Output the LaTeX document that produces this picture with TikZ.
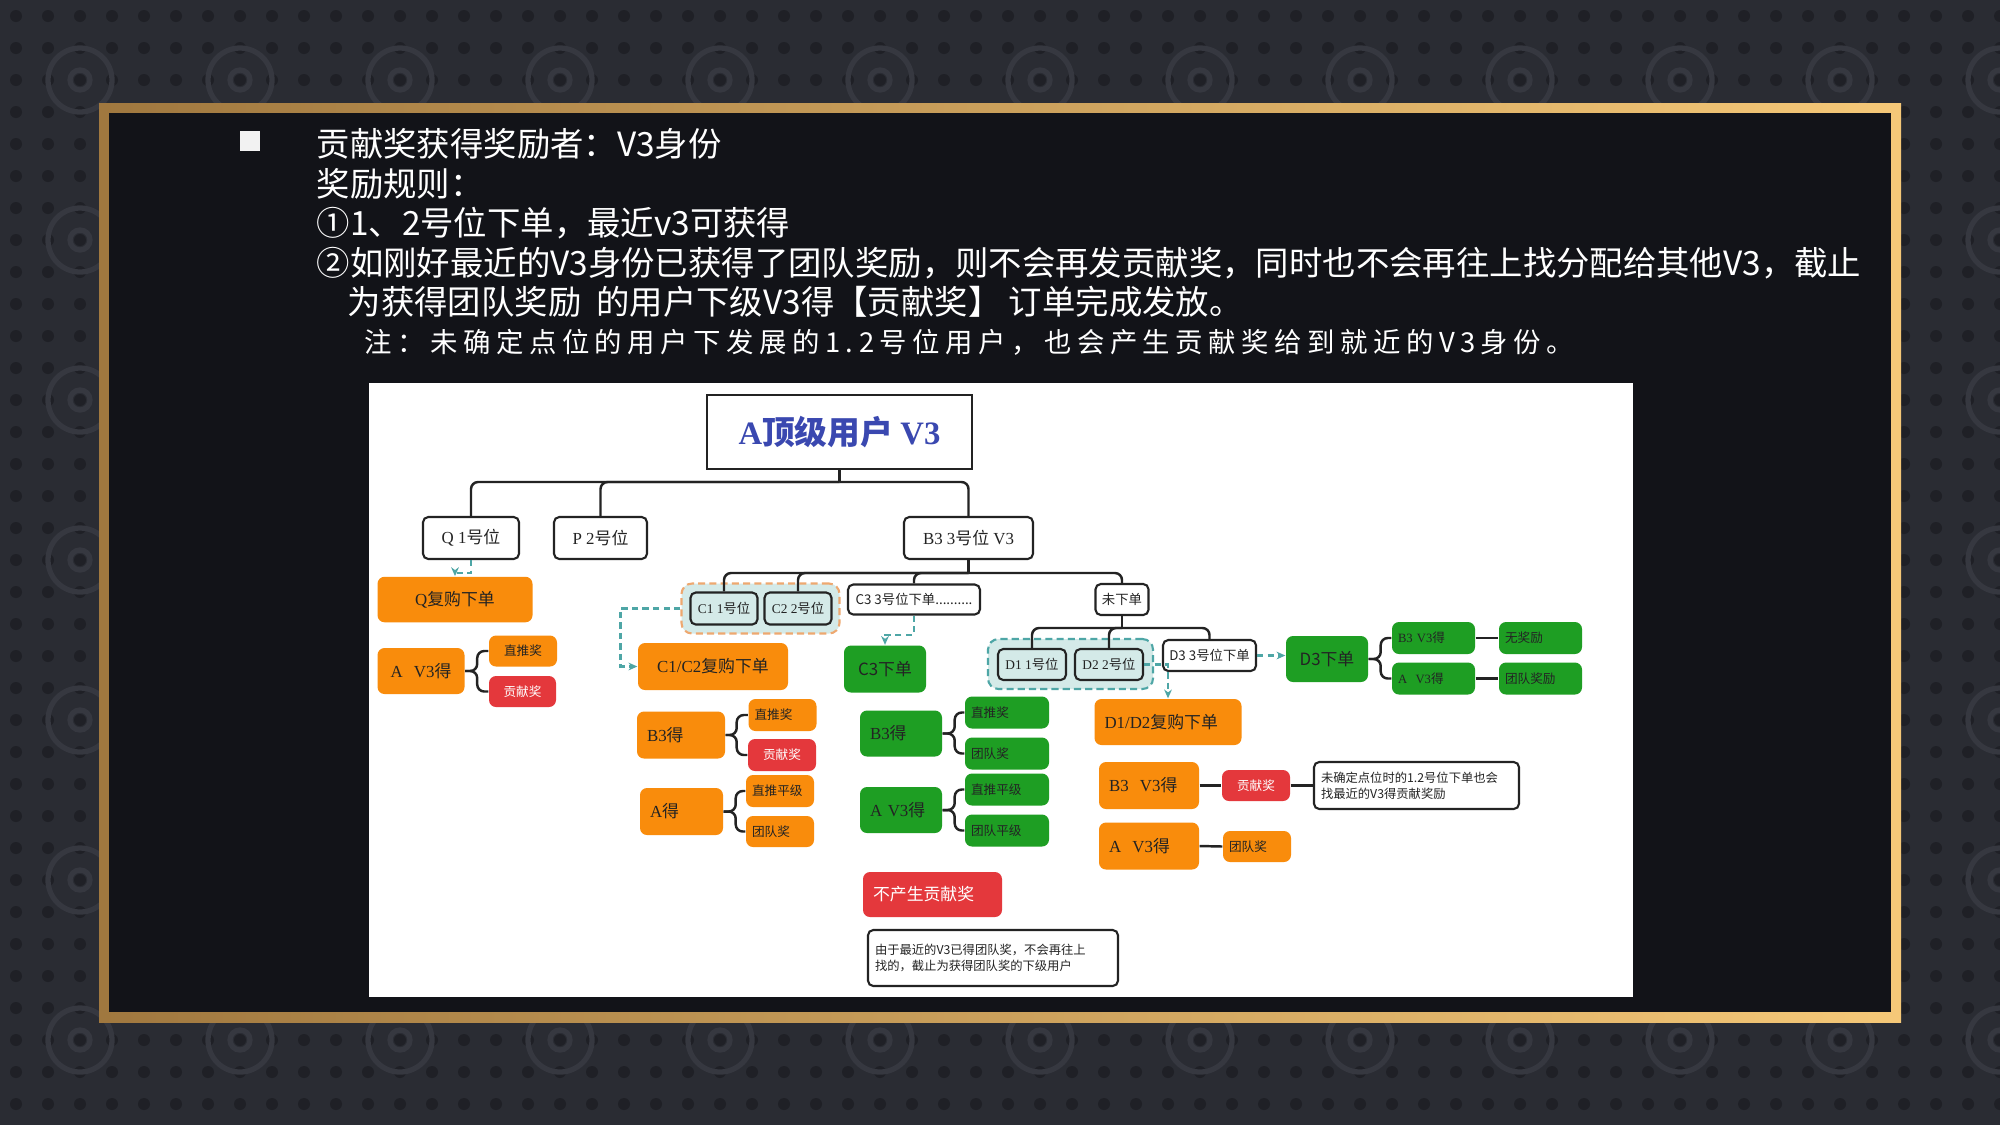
\documentclass[tikz,border=0pt]{standalone}
\usepackage{fontspec}
\setmainfont{Noto Sans CJK SC}
\newfontfamily\latf{Liberation Serif}
\newfontfamily\notefont[LetterSpace=20]{Noto Sans CJK SC}
\newcommand{\ltn}[1]{{\latf #1}}
\usetikzlibrary{arrows.meta}

\definecolor{bgcol}{HTML}{2A2C33}
\definecolor{bgdot}{HTML}{1F2026}
\definecolor{bgring}{HTML}{363840}
\definecolor{framein}{HTML}{121318}
\definecolor{goldA}{HTML}{A0783F}
\definecolor{goldB}{HTML}{F5C878}
\definecolor{orng}{HTML}{F98C0C}
\definecolor{grn}{HTML}{1E9E23}
\definecolor{rd}{HTML}{E4383C}
\definecolor{dashtl}{HTML}{4EA6A6}
\definecolor{grpfill}{HTML}{D4EAE8}
\definecolor{cgrpline}{HTML}{EEA870}
\definecolor{titleblue}{HTML}{3A48B0}
\definecolor{ink}{HTML}{232323}

\tikzstyle{posbox}=[draw=ink, line width=0.6pt, fill=white, rounded corners=1.5pt, inner sep=0.5pt, text=ink, font=\fontsize{4.8}{5.6}\selectfont]
\tikzstyle{subbox}=[posbox, font=\fontsize{3.8}{4.4}\selectfont]
\tikzstyle{grpbox}=[subbox, fill=grpfill]
\tikzstyle{orgbox}=[fill=orng, rounded corners=2pt, inner xsep=0.1cm, inner ysep=0pt, text=ink, align=left, font=\fontsize{4.8}{5.6}\selectfont]
\tikzstyle{orgsmall}=[orgbox, inner xsep=0.06cm, font=\fontsize{3.6}{4.2}\selectfont]
\tikzstyle{grnbox}=[orgbox, fill=grn]
\tikzstyle{grnsmall}=[orgsmall, fill=grn]
\tikzstyle{redsmall}=[orgsmall, fill=rd, text=white, align=center]
\tikzstyle{notebox}=[posbox, inner xsep=0.07cm, align=left, font=\fontsize{3.5}{4.6}\selectfont]
\tikzstyle{cgrp}=[fill=grpfill, draw=cgrpline, dash pattern=on 2pt off 1.2pt, line width=0.6pt, rounded corners=3pt]
\tikzstyle{dgrp}=[cgrp, draw=dashtl]
\tikzstyle{tree}=[ink, line width=0.7pt, rounded corners=2pt]
\tikzstyle{hint}=[dashtl, line width=0.6pt, dash pattern=on 1.8pt off 1.2pt, -{Stealth[length=2.5pt,width=2.2pt]}]
\tikzstyle{headtxt}=[anchor=west, inner sep=0pt, text=white, font=\fontsize{9.5}{11}\selectfont]

\begin{document}
\begin{tikzpicture}
        \useasboundingbox (0,0) rectangle (20,-11.25);
        \fill[bgcol] (0,0) rectangle (20,-11.25);
        \foreach \i in {0,...,62} \foreach \j in {0,...,35} \fill[bgdot] (0.16+\i*0.32,-0.16-\j*0.32) circle (0.06);
        \foreach \i in {0,...,12} \foreach \j in {0,...,7} \draw[bgring, line width=1.5pt] (0.8+\i*1.6,-0.8-\j*1.6) circle (0.32) circle (0.1);
        \shade[left color=goldA, right color=goldB] (0.99,-1.03) rectangle (19.01,-10.22);
        \fill[framein] (1.09,-1.13) rectangle (18.91,-10.12);

        \fill[white!95!black] (2.40,-1.31) rectangle (2.60,-1.51);
        \node[headtxt] at (3.16,-1.44) (l1) {贡献奖获得奖励者：V3身份};
        \node[headtxt] at (3.16,-1.84) (l2) {奖励规则：};
        \node[headtxt] at (3.16,-2.23) (l3) {①1、2号位下单，最近v3可获得};
        \node[headtxt] at (3.16,-2.63) (l4) {②如刚好最近的V3身份已获得了团队奖励，则不会再发贡献奖，同时也不会再往上找分配给其他V3，截止};
        \node[headtxt] at (3.47,-3.02) (l5) {为获得团队奖励\ \ 的用户下级V3得【贡献奖】 订单完成发放。};
        \node[headtxt, font=\notefont\fontsize{7.8}{9}\selectfont] at (3.64,-3.42) (l6) {注：未确定点位的用户下发展的1.2号位用户，也会产生贡献奖给到就近的V3身份。};

        \fill[white] (3.69,-3.83) rectangle (16.33,-9.97);

        \node[draw=ink, line width=0.8pt, fill=white, minimum width=2.65cm, minimum height=0.74cm, text=titleblue, font=\fontsize{9.3}{11}\selectfont\bfseries] at (8.395,-4.32) (top) {\ltn{A}顶级用户 \ltn{V3}};
        \node[posbox, minimum width=0.96cm, minimum height=0.42cm] at (4.71,-5.38) (q) {\ltn{Q 1}号位};
        \node[posbox, minimum width=0.93cm, minimum height=0.42cm] at (6.005,-5.38) (p) {\ltn{P 2}号位};
        \node[posbox, minimum width=1.29cm, minimum height=0.42cm] at (9.685,-5.38) (b3) {\ltn{B3 3}号位\ltn{ V3}};

        \node[orgbox, text width=1.35cm, minimum height=0.455cm, align=center] at (4.55,-5.995) (qbuy) {\ltn{Q}复购下单};
        \node[orgbox, text width=0.67cm, minimum height=0.46cm, align=center] at (4.21,-6.71) (qa) {\ltn{A\ \ V3}得};
        \node[orgsmall, text width=0.56cm, minimum height=0.31cm, align=center] at (5.23,-6.51) (qzt) {直推奖};
        \node[redsmall, text width=0.55cm, minimum height=0.31cm] at (5.225,-6.915) (qgx) {贡献奖};

        \node[cgrp, minimum width=1.58cm, minimum height=0.50cm] at (7.605,-6.085) (cgrp) {};
        \node[grpbox, minimum width=0.67cm, minimum height=0.32cm] at (7.24,-6.085) (c1) {\ltn{C1 1}号位};
        \node[grpbox, minimum width=0.67cm, minimum height=0.32cm] at (7.98,-6.085) (c2) {\ltn{C2 2}号位};
        \node[subbox, minimum width=1.32cm, minimum height=0.30cm] at (9.14,-5.995) (c3) {C3 3号位下单..........};
        \node[subbox, minimum width=0.53cm, minimum height=0.31cm] at (11.22,-5.995) (wxd) {未下单};

        \node[orgbox, text width=1.30cm, minimum height=0.47cm, align=center] at (7.13,-6.665) (c12buy) {\ltn{C1/C2}复购下单};
        \node[orgbox, text width=0.68cm, minimum height=0.47cm] at (6.81,-7.35) (ob3) {\ltn{B3}得};
        \node[orgsmall, text width=0.56cm, minimum height=0.32cm] at (7.825,-7.15) (ozt) {直推奖};
        \node[redsmall, text width=0.56cm, minimum height=0.32cm] at (7.82,-7.55) (ogx) {贡献奖};
        \node[orgbox, text width=0.63cm, minimum height=0.47cm] at (6.815,-8.115) (oa) {\ltn{A}得};
        \node[orgsmall, text width=0.56cm, minimum height=0.32cm] at (7.80,-7.91) (ozp) {直推平级};
        \node[orgsmall, text width=0.56cm, minimum height=0.31cm] at (7.80,-8.315) (otd) {团队奖};

        \node[grnbox, text width=0.62cm, minimum height=0.47cm, align=center] at (8.85,-6.69) (c3buy) {C3下单};
        \node[grnbox, text width=0.62cm, minimum height=0.46cm] at (9.01,-7.335) (gb3) {\ltn{B3}得};
        \node[grnsmall, text width=0.72cm, minimum height=0.32cm] at (10.07,-7.125) (gzt) {直推奖};
        \node[grnsmall, text width=0.72cm, minimum height=0.32cm] at (10.07,-7.535) (gtd) {团队奖};
        \node[grnbox, text width=0.62cm, minimum height=0.46cm] at (9.01,-8.10) (ga) {\ltn{A V3}得};
        \node[grnsmall, text width=0.72cm, minimum height=0.32cm] at (10.07,-7.895) (gzp) {直推平级};
        \node[grnsmall, text width=0.72cm, minimum height=0.32cm] at (10.07,-8.305) (gtp) {团队平级};

        \node[orgbox, fill=rd, text=white, text width=1.19cm, minimum height=0.45cm] at (9.325,-8.945) (none) {不产生贡献奖};
        \node[notebox, text width=2.36cm, minimum height=0.56cm] at (9.93,-9.58) (note1) {由于最近的V3已得团队奖，不会再往上\\找的，截止为获得团队奖的下级用户};

        \node[dgrp, minimum width=1.65cm, minimum height=0.50cm] at (10.705,-6.64) (dgrp) {};
        \node[grpbox, minimum width=0.68cm, minimum height=0.31cm] at (10.32,-6.645) (d1) {\ltn{D1 1}号位};
        \node[grpbox, minimum width=0.68cm, minimum height=0.31cm] at (11.09,-6.645) (d2) {\ltn{D2 2}号位};
        \node[subbox, minimum width=0.93cm, minimum height=0.31cm] at (12.095,-6.555) (d3) {D3 3号位下单};
        \node[orgbox, text width=1.27cm, minimum height=0.46cm] at (11.68,-7.22) (d12buy) {\ltn{D1/D2}复购下单};

        \node[grnbox, text width=0.62cm, minimum height=0.46cm, align=center] at (13.27,-6.59) (d3buy) {D3下单};
        \node[grnsmall, text width=0.71cm, minimum height=0.32cm] at (14.335,-6.38) (gb3v) {\ltn{B3 V3}得};
        \node[grnsmall, text width=0.71cm, minimum height=0.32cm] at (14.335,-6.785) (gav) {\ltn{A\ \ V3}得};
        \node[grnsmall, text width=0.71cm, minimum height=0.32cm] at (15.405,-6.38) (gwj) {无奖励};
        \node[grnsmall, text width=0.71cm, minimum height=0.32cm] at (15.405,-6.785) (gtdj) {团队奖励};

        \node[orgbox, text width=0.80cm, minimum height=0.47cm] at (11.49,-7.855) (ob3v) {\ltn{B3\ \ V3}得};
        \node[redsmall, text width=0.56cm, minimum height=0.31cm] at (12.56,-7.855) (ogx2) {贡献奖};
        \node[notebox, text width=1.91cm, minimum height=0.47cm] at (14.165,-7.855) (note2) {未确定点位时的1.2号位下单也会\\找最近的V3得贡献奖励};
        \node[orgbox, text width=0.80cm, minimum height=0.47cm] at (11.49,-8.46) (oav) {\ltn{A\ \ V3}得};
        \node[orgsmall, text width=0.56cm, minimum height=0.31cm] at (12.57,-8.465) (otd2) {团队奖};

        \coordinate (ja) at (8.395,-4.82);
        \coordinate (jb) at (9.685,-5.73);
        \coordinate (jc) at (11.22,-6.28);
        \draw[tree] (top.south) -- (ja);
        \draw[tree] (ja) -| (q.north);
        \draw[tree] (ja) -| (p.north);
        \draw[tree] (ja) -| (b3.north);
        \draw[tree] (b3.south) -- (jb);
        \draw[tree] (jb) -| (c1.north);
        \draw[tree] (jb) -| (c2.north);
        \draw[tree] (jb) -| (c3.north);
        \draw[tree] (jb) -| (wxd.north);
        \draw[tree] (wxd.south) -- (jc);
        \draw[tree] (jc) -| (d1.north);
        \draw[tree] (jc) -| (d2.north);
        \draw[tree] (jc) -| (d3.north);

        \draw[tree] (qa.east) -- ++(0.12,0) |- (qzt.west);
        \draw[tree] (qa.east) -- ++(0.12,0) |- (qgx.west);
        \draw[tree] (ob3.east) -- ++(0.11,0) |- (ozt.west);
        \draw[tree] (ob3.east) -- ++(0.11,0) |- (ogx.west);
        \draw[tree] (oa.east) -- ++(0.12,0) |- (ozp.west);
        \draw[tree] (oa.east) -- ++(0.12,0) |- (otd.west);
        \draw[tree] (gb3.east) -- ++(0.12,0) |- (gzt.west);
        \draw[tree] (gb3.east) -- ++(0.12,0) |- (gtd.west);
        \draw[tree] (ga.east) -- ++(0.12,0) |- (gzp.west);
        \draw[tree] (ga.east) -- ++(0.12,0) |- (gtp.west);
        \draw[tree] (d3buy.east) -- ++(0.12,0) |- (gb3v.west);
        \draw[tree] (d3buy.east) -- ++(0.12,0) |- (gav.west);
        \draw[tree] (gb3v.east) -- (gwj.west);
        \draw[tree] (gav.east) -- (gtdj.west);
        \draw[tree] (ob3v.east) -- (ogx2.west);
        \draw[tree] (ogx2.east) -- (note2.west);
        \draw[tree] (oav.east) -- (otd2.west);

        \draw[hint] (q.south) -- ++(0,-0.13) -| (qbuy.north);
        \draw[hint] (cgrp.west) -- ++(-0.6,0) |- (c12buy.west);
        \draw[hint] (c3.south) -- ++(0,-0.19) -| (c3buy.north);
        \draw[hint] (d2.east) -| (d12buy.north);
        \draw[hint] (d3.east) -- (d3.east -| d3buy.west);
    \end{tikzpicture}
\end{document}
